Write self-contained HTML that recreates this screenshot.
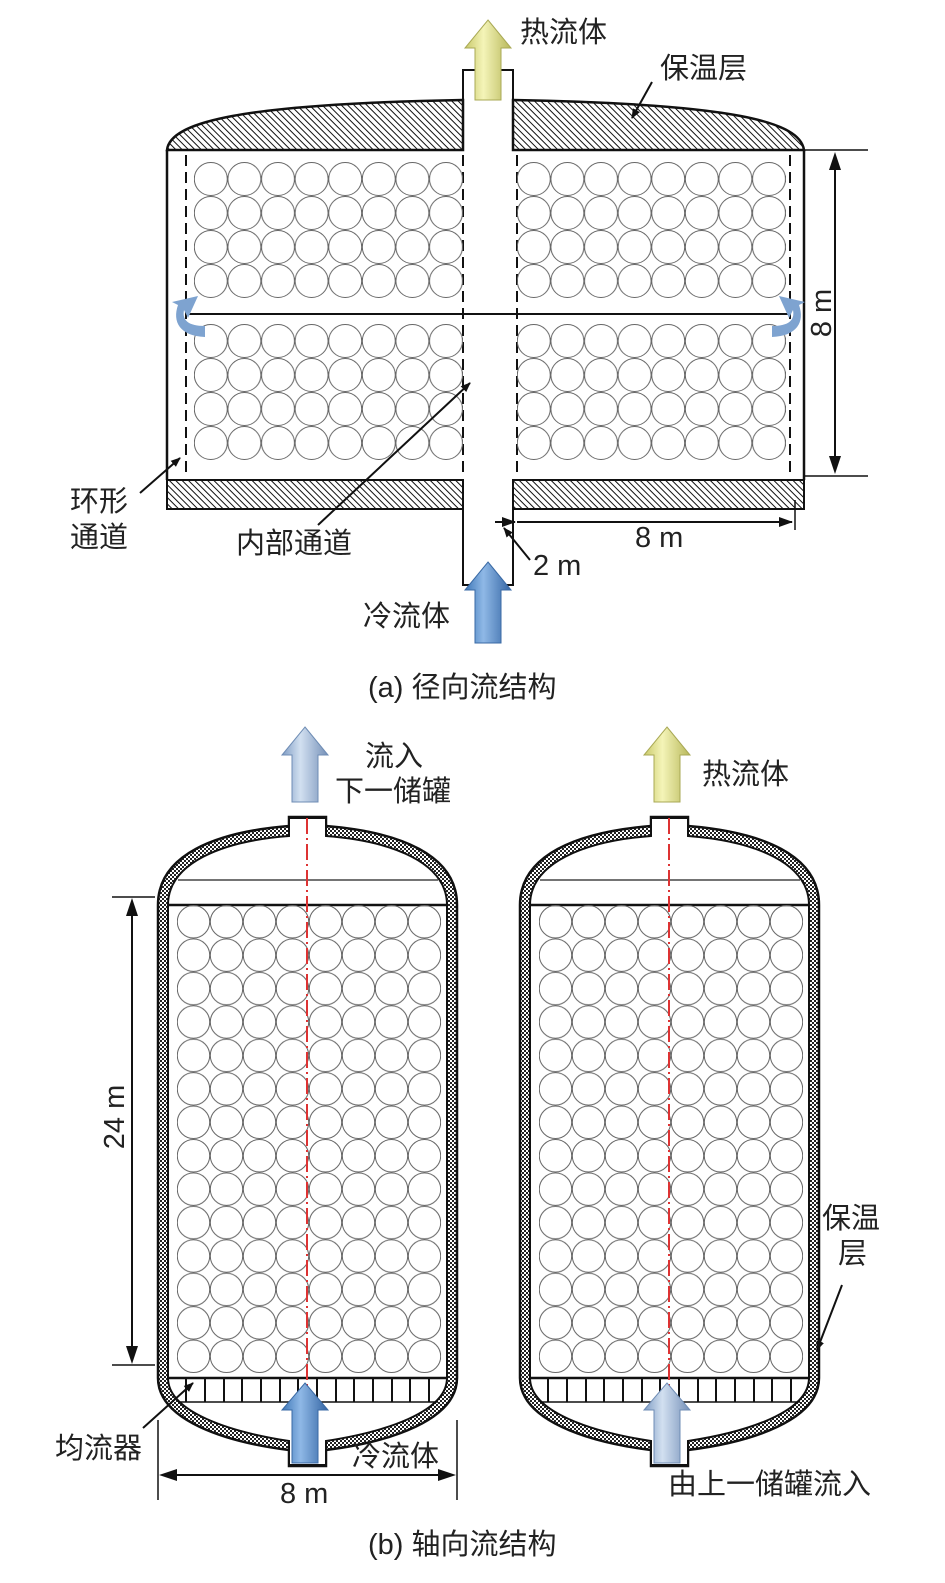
<!DOCTYPE html>
<html><head><meta charset="utf-8"><style>
html,body{margin:0;padding:0;background:#fff}
svg{display:block}
text{font-family:"Liberation Sans","Noto Sans CJK SC",sans-serif;fill:#222;font-size:29px}
</style></head><body>
<svg width="945" height="1583" viewBox="0 0 945 1583" xmlns="http://www.w3.org/2000/svg">
<defs>
<pattern id="hatch" patternUnits="userSpaceOnUse" width="4.5" height="4.5" patternTransform="rotate(-45)">
<rect width="4.5" height="4.5" fill="#fff"/><line x1="0" y1="0" x2="0" y2="4.5" stroke="#111" stroke-width="2"/></pattern>
<pattern id="dots" patternUnits="userSpaceOnUse" width="4" height="4">
<rect width="4" height="4" fill="#fff"/><rect width="2" height="2" fill="#222"/><rect x="2" y="2" width="2" height="2" fill="#222"/></pattern>
<pattern id="cA" patternUnits="userSpaceOnUse" x="194" y="162" width="33.6" height="34">
<circle cx="16.8" cy="17" r="16.5" fill="none" stroke="#666" stroke-width="1"/></pattern>
<pattern id="cB" patternUnits="userSpaceOnUse" x="194" y="324" width="33.6" height="34">
<circle cx="16.8" cy="17" r="16.5" fill="none" stroke="#666" stroke-width="1"/></pattern>
<pattern id="cC" patternUnits="userSpaceOnUse" x="517" y="162" width="33.6" height="34">
<circle cx="16.8" cy="17" r="16.5" fill="none" stroke="#666" stroke-width="1"/></pattern>
<pattern id="cD" patternUnits="userSpaceOnUse" x="517" y="324" width="33.6" height="34">
<circle cx="16.8" cy="17" r="16.5" fill="none" stroke="#666" stroke-width="1"/></pattern>
<pattern id="cT" patternUnits="userSpaceOnUse" x="177" y="905" width="33" height="33.43">
<circle cx="16.5" cy="16.7" r="16.2" fill="none" stroke="#666" stroke-width="1"/></pattern>
<linearGradient id="gy" x1="0" x2="1"><stop offset="0" stop-color="#c9c96a"/><stop offset=".4" stop-color="#f4f4b8"/><stop offset="1" stop-color="#b8b85a"/></linearGradient>
<linearGradient id="gb" x1="0" x2="1"><stop offset="0" stop-color="#3f78b8"/><stop offset=".4" stop-color="#8fb8e6"/><stop offset="1" stop-color="#3465a4"/></linearGradient>
<linearGradient id="gl" x1="0" x2="1"><stop offset="0" stop-color="#7f9cc4"/><stop offset=".4" stop-color="#d2e0f0"/><stop offset="1" stop-color="#7590b8"/></linearGradient>
<marker id="ar" markerWidth="10" markerHeight="10" refX="9" refY="5" orient="auto" markerUnits="userSpaceOnUse"><path d="M0,1 L10,5 L0,9 Z" fill="#111"/></marker>
<marker id="ar0" markerWidth="14" markerHeight="10" refX="13" refY="5" orient="auto" markerUnits="userSpaceOnUse"><path d="M0,0 L14,5 L0,10 Z" fill="#111"/></marker>
</defs>

<!-- ===== (a) ===== -->
<path d="M167,150 C170,122 240,104 463,100 L463,150 Z" fill="url(#hatch)" stroke="#111" stroke-width="2.5"/>
<path d="M513,100 C736,104 800,122 804,150 L513,150 Z" fill="url(#hatch)" stroke="#111" stroke-width="2.5"/>
<rect x="167" y="480" width="296" height="29" fill="url(#hatch)" stroke="#111" stroke-width="2"/>
<rect x="513" y="480" width="291" height="29" fill="url(#hatch)" stroke="#111" stroke-width="2"/>
<line x1="167" y1="150" x2="167" y2="480" stroke="#111" stroke-width="2.5"/>
<line x1="804" y1="150" x2="804" y2="480" stroke="#111" stroke-width="2.5"/>
<line x1="167" y1="150" x2="463" y2="150" stroke="#111" stroke-width="1.5"/>
<line x1="513" y1="150" x2="804" y2="150" stroke="#111" stroke-width="1.5"/>
<path d="M463,100 L463,70 L513,70 L513,100" fill="none" stroke="#111" stroke-width="2"/>
<path d="M463,509 L463,585 L513,585 L513,509" fill="none" stroke="#111" stroke-width="2"/>
<g stroke="#111" stroke-width="2" stroke-dasharray="11,6">
<line x1="186" y1="155" x2="186" y2="472"/><line x1="463" y1="155" x2="463" y2="472"/>
<line x1="517" y1="155" x2="517" y2="472"/><line x1="790" y1="155" x2="790" y2="472"/></g>
<line x1="186" y1="314" x2="790" y2="314" stroke="#111" stroke-width="2"/>
<rect x="194" y="162" width="269" height="136" fill="url(#cA)"/>
<rect x="194" y="324" width="269" height="136" fill="url(#cB)"/>
<rect x="517" y="162" width="269" height="136" fill="url(#cC)"/>
<rect x="517" y="324" width="269" height="136" fill="url(#cD)"/>
<path d="M205,337 C180,336 172,322 178,305 L172,302 L198,296 L188,318 L184,310 C182,320 188,326 205,326 Z" fill="#7ea3d0"/>
<path d="M772,337 C797,336 805,322 799,305 L805,302 L779,296 L789,318 L793,310 C795,320 789,326 772,326 Z" fill="#7ea3d0"/>
<polygon points="488,20 511,48 501,48 501,100 475,100 475,48 465,48" fill="url(#gy)" stroke="#a9a955" stroke-width="1"/>
<polygon points="488,562 511,590 501,590 501,643 475,643 475,590 465,590" fill="url(#gb)" stroke="#3a6aa5" stroke-width="1"/>
<line x1="804" y1="150" x2="868" y2="150" stroke="#111" stroke-width="1.5"/>
<line x1="804" y1="476" x2="868" y2="476" stroke="#111" stroke-width="1.5"/>
<line x1="835" y1="170" x2="835" y2="456" stroke="#111" stroke-width="2"/>
<path d="M835,152 L829,170 L841,170 Z M835,474 L829,456 L841,456 Z" fill="#111"/>
<text transform="translate(831,313) rotate(-90)" text-anchor="middle">8 m</text>
<line x1="795" y1="500" x2="795" y2="530" stroke="#111" stroke-width="1.5"/>
<line x1="517" y1="522" x2="792" y2="522" stroke="#111" stroke-width="2" marker-end="url(#ar0)"/>
<line x1="495" y1="522" x2="515" y2="522" stroke="#111" stroke-width="2" marker-end="url(#ar0)"/>
<text x="635" y="547">8 m</text>
<line x1="530" y1="560" x2="504" y2="528" stroke="#111" stroke-width="2" marker-end="url(#ar)"/>
<text x="533" y="575">2 m</text>
<line x1="140" y1="493" x2="180" y2="458" stroke="#111" stroke-width="2" marker-end="url(#ar)"/>
<text x="70" y="511">环形</text>
<text x="70" y="547">通道</text>
<line x1="318" y1="525" x2="470" y2="383" stroke="#111" stroke-width="2" marker-end="url(#ar)"/>
<text x="236" y="553">内部通道</text>
<line x1="652" y1="82" x2="632" y2="118" stroke="#111" stroke-width="2" marker-end="url(#ar)"/>
<text x="660" y="78">保温层</text>
<text x="520" y="42">热流体</text>
<text x="363" y="626">冷流体</text>
<text x="368" y="697">(a) 径向流结构</text>

<!-- ===== (b) ===== -->
<g id="tank">
<path d="M158,905 C158,855 215,832 289,826 L289,817 L326,817 L326,826 C400,832 457,855 457,905 L457,1378 C457,1420 390,1442 326,1450 L326,1466 L289,1466 L289,1450 C225,1442 158,1420 158,1378 Z" fill="url(#dots)" stroke="#111" stroke-width="2.5"/>
<path d="M168,905 C168,863 222,841 289,836 L289,818 L326,818 L326,836 C393,841 447,863 447,905 L447,1378 C447,1412 385,1432 326,1441 L326,1465 L289,1465 L289,1441 C230,1432 168,1412 168,1378 Z" fill="#fff" stroke="#111" stroke-width="2"/>
<line x1="178" y1="880" x2="438" y2="880" stroke="#222" stroke-width="1.2"/>
<line x1="168" y1="905" x2="447" y2="905" stroke="#111" stroke-width="2.5"/>
<rect x="177" y="905" width="264" height="468" fill="url(#cT)"/>
<line x1="168" y1="1378" x2="447" y2="1378" stroke="#111" stroke-width="2.5"/>
<line x1="178" y1="1402" x2="438" y2="1402" stroke="#111" stroke-width="1.5"/>
<g stroke="#111" stroke-width="2">
<line x1="186" y1="1378" x2="186" y2="1402"/><line x1="205" y1="1378" x2="205" y2="1402"/><line x1="224" y1="1378" x2="224" y2="1402"/><line x1="242" y1="1378" x2="242" y2="1402"/><line x1="261" y1="1378" x2="261" y2="1402"/><line x1="280" y1="1378" x2="280" y2="1402"/><line x1="298" y1="1378" x2="298" y2="1402"/><line x1="317" y1="1378" x2="317" y2="1402"/><line x1="336" y1="1378" x2="336" y2="1402"/><line x1="354" y1="1378" x2="354" y2="1402"/><line x1="373" y1="1378" x2="373" y2="1402"/><line x1="392" y1="1378" x2="392" y2="1402"/><line x1="410" y1="1378" x2="410" y2="1402"/><line x1="429" y1="1378" x2="429" y2="1402"/></g>
<line x1="307" y1="818" x2="307" y2="1400" stroke="#d33" stroke-width="2" stroke-dasharray="16,4,2,4"/>
</g>
<use href="#tank" transform="translate(362,0)"/>
<polygon points="305,727 328,755 318,755 318,802 292,802 292,755 282,755" fill="url(#gl)" stroke="#6f8db5" stroke-width="1"/>
<polygon points="305,1383 328,1410 318,1410 318,1463 292,1463 292,1410 282,1410" fill="url(#gb)" stroke="#3a6aa5" stroke-width="1"/>
<polygon points="667,727 690,755 680,755 680,802 654,802 654,755 644,755" fill="url(#gy)" stroke="#a9a955" stroke-width="1"/>
<polygon points="667,1383 690,1410 680,1410 680,1463 654,1463 654,1410 644,1410" fill="url(#gl)" stroke="#6f8db5" stroke-width="1"/>
<line x1="112" y1="897" x2="155" y2="897" stroke="#111" stroke-width="1.5"/>
<line x1="112" y1="1365" x2="155" y2="1365" stroke="#111" stroke-width="1.5"/>
<line x1="132" y1="915" x2="132" y2="1347" stroke="#111" stroke-width="2"/>
<path d="M132,898 L126,916 L138,916 Z M132,1364 L126,1346 L138,1346 Z" fill="#111"/>
<text transform="translate(124,1117) rotate(-90)" text-anchor="middle">24 m</text>
<line x1="158" y1="1420" x2="158" y2="1500" stroke="#111" stroke-width="1.5"/>
<line x1="457" y1="1420" x2="457" y2="1500" stroke="#111" stroke-width="1.5"/>
<line x1="176" y1="1475" x2="439" y2="1475" stroke="#111" stroke-width="2"/>
<path d="M159,1475 L177,1469 L177,1481 Z M456,1475 L438,1469 L438,1481 Z" fill="#111"/>
<text x="280" y="1503">8 m</text>
<line x1="143" y1="1428" x2="193" y2="1383" stroke="#111" stroke-width="2" marker-end="url(#ar)"/>
<text x="55" y="1458">均流器</text>
<text x="352" y="1466">冷流体</text>
<text x="365" y="766">流入</text>
<text x="335" y="801">下一储罐</text>
<text x="702" y="784">热流体</text>
<line x1="842" y1="1285" x2="817" y2="1350" stroke="#111" stroke-width="2" marker-end="url(#ar)"/>
<text x="822" y="1228">保温</text>
<text x="838" y="1263">层</text>
<text x="668" y="1494">由上一储罐流入</text>
<text x="368" y="1554">(b) 轴向流结构</text>
</svg>
</body></html>
